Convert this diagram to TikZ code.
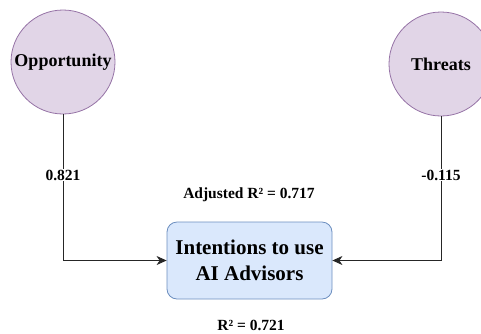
\documentclass[tikz,border=0pt]{standalone}
\usepackage{fontspec}
\setmainfont{Liberation Serif}
\usetikzlibrary{arrows.meta}
\definecolor{cfill}{HTML}{E1D5E7}
\definecolor{cdraw}{HTML}{9673A6}
\definecolor{bfill}{HTML}{DAE8FC}
\definecolor{bdraw}{HTML}{6C8EBF}
\tikzset{
  constr/.style={circle, draw=cdraw, fill=cfill, line width=0.8pt, minimum size=104pt, inner sep=0pt, font=\fontsize{18}{20}\selectfont\bfseries},
  target/.style={draw=bdraw, fill=bfill, line width=0.8pt, rounded corners=10pt, minimum width=165pt, minimum height=77pt, align=center, inner sep=0pt, font=\fontsize{21}{26}\selectfont\bfseries},
  lab/.style={fill=white, inner sep=1pt, font=\fontsize{15.5}{18}\selectfont\bfseries},
  txt/.style={inner sep=0pt, font=\fontsize{15.5}{18}\selectfont\bfseries},
  conn/.style={draw=black!85, line width=0.8pt, -{Stealth[length=10pt,width=9pt,inset=3pt]}}
}
\begin{document}
\begin{tikzpicture}[x=1pt, y=-1pt]
\useasboundingbox (0,0) rectangle (481,333);
\begin{scope}
\clip (0,0) rectangle (481,333);
\node[constr] (opp) at (63,62) {Opportunity};
\node[constr] (thr) at (441,64) {Threats};
\end{scope}
\node[target] (box) at (249.5,260.5) {Intentions to use\\AI Advisors};
\draw[conn] (opp.south) |- (box.west);
\draw[conn] (thr.south) |- (box.east);
\node[lab] (l1) at (63,175) {0.821};
\node[lab] (l2) at (441,175) {-0.115};
\node[txt] (adj) at (249,195) {Adjusted R² = 0.717};
\node[txt] (r2) at (251,325) {R² = 0.721};
\end{tikzpicture}
\end{document}
